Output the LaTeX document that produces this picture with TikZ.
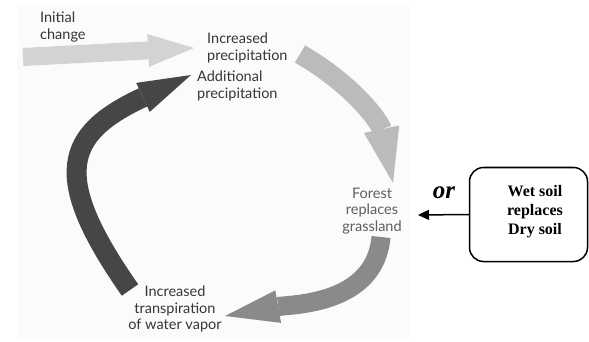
\documentclass[tikz,border=0pt]{standalone}
\usepackage{fontspec}
\setmainfont{Liberation Serif}
\newfontfamily\gilltype{Lato}
\usepackage{tikz}
\usetikzlibrary{arrows.meta,shapes}

\definecolor{labelgray}{HTML}{363636}
\definecolor{forestgray}{HTML}{5E5E5E}
\definecolor{photobg}{HTML}{FBFBFB}
\definecolor{initgray}{HTML}{D3D3D3}
\definecolor{raingray}{HTML}{BBBBBB}
\definecolor{forestarrow}{HTML}{8A8A8A}
\definecolor{vaporgray}{HTML}{464646}

\tikzset{
  cyclelabel/.style = {font = \gilltype\fontsize{14.5}{16.5}\selectfont, text = labelgray, inner sep = 0pt},
  fatarrow/.style = {line width = 20pt},
}

\begin{document}
\begin{tikzpicture}[x = 1pt, y = 1pt]
    \useasboundingbox (0,0) rectangle (589,-342);
    \fill[photobg] (17,-4) rectangle (410,-340);
    % Labels
    \node[cyclelabel, anchor = north west, align = left] (init) at (40,-12) {Initial\\change};
    \node[cyclelabel, anchor = west, align = left] (incp) at (207,-48) {Increased\\precipitation};
    \node[cyclelabel, anchor = west, align = left] (addp) at (197,-86) {Additional\\precipitation};
    \node[cyclelabel, align = center, text = forestgray] (forest) at (372,-211) {Forest\\replaces\\grassland};
    \node[cyclelabel, align = center] (transp) at (175,-309) {Increased\\transpiration\\of water vapor};
    \node[draw, line width = 1.5pt, rounded corners = 14pt, minimum width = 118pt, minimum height = 94pt] (soil) at (528.5,-214.5) {};
    \node[font = \bfseries\fontsize{16}{19}\selectfont, align = center, inner sep = 0pt] (soiltxt) at (535,-212) {Wet soil\\replaces\\Dry soil};
    \node[font = \bfseries\itshape\fontsize{25}{25}\selectfont, inner sep = 0pt] (or) at (444,-193) {or};
    % Arrow ends
    \coordinate (ia0) at (23,-57);
    \coordinate (ia1) at (194,-48);
    \coordinate (ra0) at (300,-54);
    \coordinate (ra1) at (393,-183);
    \coordinate (la0) at (381,-237);
    \coordinate (la1) at (225,-316);
    \coordinate (da0) at (130,-290);
    \coordinate (da1) at (191,-75);
    \coordinate (hook) at (418,-215);
    % Cycle
    \draw[fatarrow, initgray, line width = 18pt, -{Triangle[length = 46pt, width = 33pt, line width = 0pt]}] (ia0) -- (ia1);
    \draw[fatarrow, raingray, -{Triangle[length = 55pt, width = 36pt, line width = 0pt]}] (ra0) to[out = -30, in = 102] (ra1);
    \draw[fatarrow, forestarrow, line width = 19pt, -{Triangle[length = 54pt, width = 33pt, line width = 0pt]}] (la0) to[out = -95, in = 10] (la1);
    \draw[fatarrow, vaporgray, -{Triangle[length = 53pt, width = 32pt, line width = 0pt]}] (da0) to[out = 125, in = 205, looseness = 1.6] (da1);
    \draw[line width = 1.5pt, -{Triangle[length = 11pt, width = 10pt]}] (soil.west) -- (hook);
\end{tikzpicture}
\end{document}
